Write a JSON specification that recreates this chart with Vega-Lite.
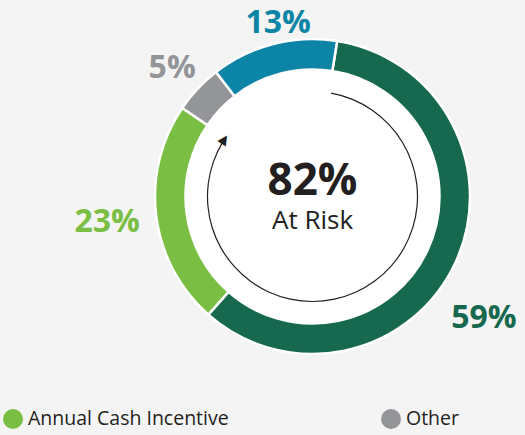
{
  "$schema": "https://vega.github.io/schema/vega-lite/v6.json",
  "width": 315,
  "height": 315,
  "autosize": {"type": "none"},
  "padding": {"left": 155, "top": 39, "right": 55, "bottom": 81},
  "background": "#f5f4f4",
  "config": {"view": {"stroke": null}, "font": "Open Sans"},
  "datasets": {
    "pay": [
      {"component": "Long-Term Incentive", "pct": 59, "label": "59%", "rank": 1},
      {"component": "Annual Cash Incentive", "pct": 23, "label": "23%", "rank": 2},
      {"component": "Other", "pct": 5, "label": "5%", "rank": 3},
      {"component": "Base Salary", "pct": 13, "label": "13%", "rank": 4}
    ],
    "one": [{"k": 1}]
  },
  "layer": [
    {
      "data": {"name": "one"},
      "mark": {"type": "arc", "theta": 0, "theta2": 6.2832, "radius": 128, "radius2": 0, "fill": "#ffffff"},
      "encoding": {}
    },
    {
      "data": {"name": "pay"},
      "mark": {"type": "arc", "radius": 157.5, "radius2": 127, "stroke": "#ffffff", "strokeWidth": 2.5},
      "encoding": {
        "theta": {"field": "pct", "type": "quantitative", "stack": true, "scale": {"range": [0.157, 6.4402]}},
        "order": {"field": "rank", "type": "quantitative"},
        "color": {
          "field": "component", "type": "nominal",
          "scale": {
            "domain": ["Base Salary", "Annual Cash Incentive", "Long-Term Incentive", "Other"],
            "range": ["#0b84a5", "#7abf43", "#16694f", "#939598"]
          },
          "legend": {
            "values": ["Annual Cash Incentive", "Other"],
            "title": null,
            "orient": "none",
            "direction": "horizontal",
            "legendX": -152,
            "legendY": 370,
            "padding": 0,
            "symbolType": "circle",
            "symbolSize": 400,
            "symbolStrokeWidth": 0,
            "symbolOpacity": 1,
            "labelFontSize": 19.5,
            "labelColor": "#231f20",
            "labelOffset": 5,
            "labelLimit": 400,
            "columnPadding": 152
          }
        }
      }
    },
    {
      "data": {"name": "pay"},
      "mark": {"type": "text", "radius": 177, "thetaOffset": 0.056, "fontSize": 32, "fontWeight": "bold", "baseline": "middle", "align": "center"},
      "encoding": {
        "theta": {"field": "pct", "type": "quantitative", "stack": true},
        "order": {"field": "rank", "type": "quantitative"},
        "color": {"field": "component", "type": "nominal"},
        "text": {"condition": {"test": "datum.component === 'Base Salary'", "field": "label"}, "value": ""}
      }
    },
    {
      "data": {"name": "pay"},
      "mark": {"type": "text", "radius": 190, "thetaOffset": -0.014, "fontSize": 32, "fontWeight": "bold", "baseline": "middle", "align": "center"},
      "encoding": {
        "theta": {"field": "pct", "type": "quantitative", "stack": true},
        "order": {"field": "rank", "type": "quantitative"},
        "color": {"field": "component", "type": "nominal"},
        "text": {"condition": {"test": "datum.component === 'Other'", "field": "label"}, "value": ""}
      }
    },
    {
      "data": {"name": "pay"},
      "mark": {"type": "text", "radius": 207, "fontSize": 32, "fontWeight": "bold", "baseline": "middle", "align": "center"},
      "encoding": {
        "theta": {"field": "pct", "type": "quantitative", "stack": true},
        "order": {"field": "rank", "type": "quantitative"},
        "color": {"field": "component", "type": "nominal"},
        "text": {"condition": {"test": "datum.component === 'Annual Cash Incentive'", "field": "label"}, "value": ""}
      }
    },
    {
      "data": {"name": "pay"},
      "mark": {"type": "text", "radius": 210, "thetaOffset": 0.176, "fontSize": 32, "fontWeight": "bold", "baseline": "middle", "align": "center"},
      "encoding": {
        "theta": {"field": "pct", "type": "quantitative", "stack": true},
        "order": {"field": "rank", "type": "quantitative"},
        "color": {"field": "component", "type": "nominal"},
        "text": {"condition": {"test": "datum.component === 'Long-Term Incentive'", "field": "label"}, "value": ""}
      }
    },
    {
      "data": {"name": "one"},
      "mark": {"type": "arc", "theta": 0.178, "theta2": 5.26, "radius": 105.6, "radius2": 104.4, "fill": "#231f20"},
      "encoding": {}
    },
    {
      "data": {"name": "one"},
      "mark": {"type": "text", "text": "▲", "theta": 5.29, "radius": 105, "angle": 33, "fontSize": 13, "font": "DejaVu Sans", "baseline": "middle", "align": "center", "color": "#231f20"},
      "encoding": {}
    },
    {
      "data": {"name": "one"},
      "mark": {"type": "text", "text": "82%", "fontSize": 44, "fontWeight": "bold", "dy": -2, "baseline": "alphabetic", "align": "center", "color": "#231f20"},
      "encoding": {}
    },
    {
      "data": {"name": "one"},
      "mark": {"type": "text", "text": "At Risk", "fontSize": 26, "dy": 32, "baseline": "alphabetic", "align": "center", "color": "#231f20"},
      "encoding": {}
    }
  ]
}
